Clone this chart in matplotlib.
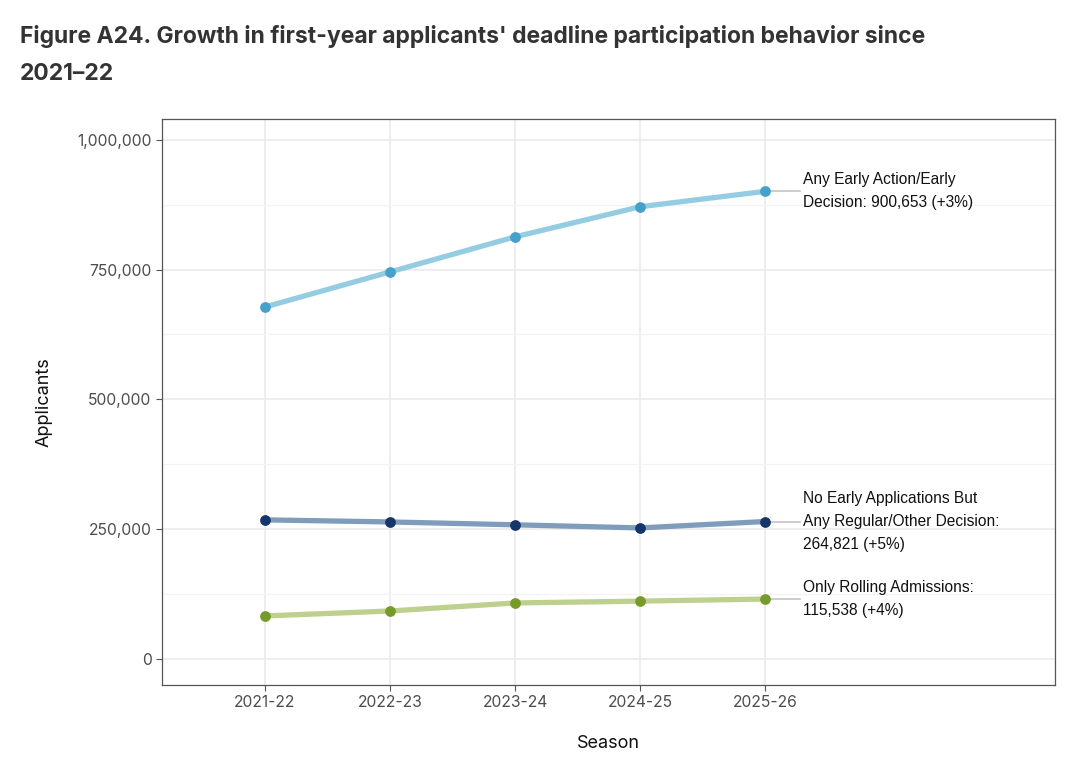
import numpy as np
import matplotlib.pyplot as plt
from matplotlib.ticker import FuncFormatter, MultipleLocator

seasons = ['2021-22', '2022-23', '2023-24', '2024-25', '2025-26']
early = [678000, 745500, 813000, 871000, 900653]
regular = [268000, 264000, 258500, 252500, 264821]
rolling = [83000, 92500, 108000, 111500, 115538]

labels = ['Any Early Action/Early\nDecision: 900,653 (+3%)',
          'No Early Applications But\nAny Regular/Other Decision:\n264,821 (+5%)',
          'Only Rolling Admissions:\n115,538 (+4%)']
line_colors = ['#94cde2', '#7f9dbb', '#bdd08e']
point_colors = ['#45a0cb', '#15366b', '#779a2c']

fig = plt.figure(figsize=(10.8, 7.69), dpi=100)
ax = fig.add_axes([162 / 1080, 1 - 685 / 769, (1055 - 162) / 1080, (685 - 119) / 769])

x = np.arange(len(seasons))
for vals, lab, lc, pc in zip([early, regular, rolling], labels, line_colors, point_colors):
    ax.plot(x, vals, color=lc, lw=3.8, solid_capstyle='round', zorder=3)
    ax.scatter(x, vals, s=60, color=pc, zorder=4, linewidths=0)
    ax.plot([x[-1], x[-1] + 0.28], [vals[-1], vals[-1]], color='#c4c4c4', lw=1.2, zorder=2)
    ax.text(x[-1] + 0.305, vals[-1], lab, va='center', ha='left', fontsize=11.2,
            family='Liberation Sans', color='#111111', linespacing=1.65)

ax.set_xlim(-0.824, 6.32)
ax.set_ylim(-50000, 1040000)
ax.set_xticks(x)
ax.set_xticklabels(seasons)
ax.yaxis.set_major_locator(MultipleLocator(250000))
ax.yaxis.set_minor_locator(MultipleLocator(125000))
ax.yaxis.set_major_formatter(FuncFormatter(lambda v, p: f'{int(v):,}'))

ax.grid(which='major', color='#ebebeb', lw=1.2)
ax.grid(which='minor', axis='y', color='#f3f3f3', lw=0.9)
ax.set_axisbelow(True)
for s in ax.spines.values():
    s.set_color('#555555')
    s.set_linewidth(0.9)
ax.tick_params(which='major', length=4, color='#555555', labelsize=11.3, labelcolor='#4d4d4d')
ax.tick_params(which='minor', length=0)
for t in ax.get_xticklabels() + ax.get_yticklabels():
    t.set_family('Inter')

ax.set_xlabel('Season', fontsize=13, family='Inter', labelpad=18, color='#111111')
ax.set_ylabel('Applicants', fontsize=13, family='Inter', labelpad=18, color='#111111')

fig.text(20 / 1080, 1 - 25 / 769, "Figure A24. Growth in first-year applicants' deadline participation behavior since\n2021\u201322",
         fontsize=16.5, fontweight='bold', family='Inter', color='#333333', va='top', ha='left',
         linespacing=1.9)

fig.savefig('out.png', dpi=100, facecolor='white')
